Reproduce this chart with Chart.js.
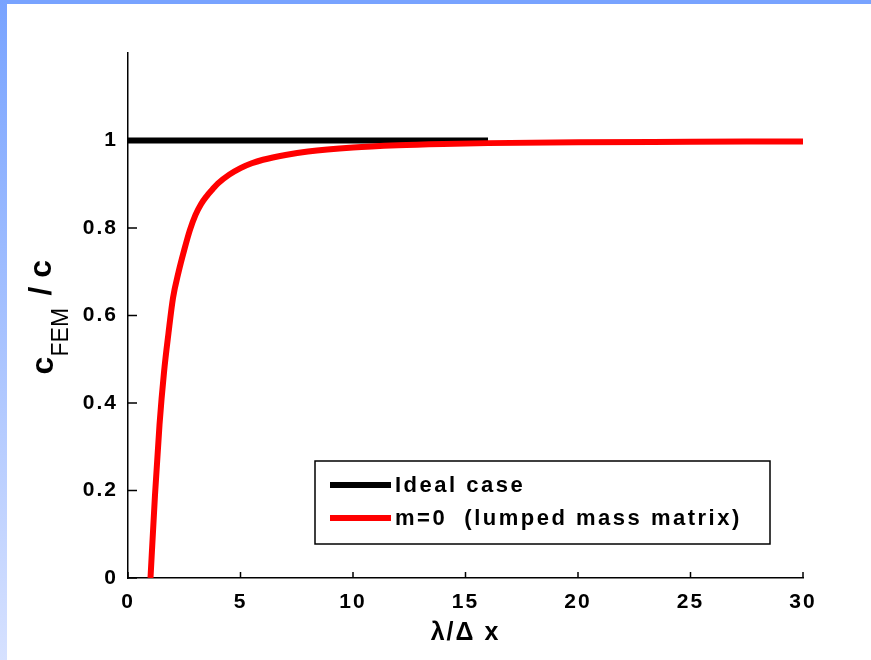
<!DOCTYPE html>
<html>
<head>
<meta charset="utf-8">
<script src="https://cdn.jsdelivr.net/npm/chart.js@4"></script>
<style>
  html, body { margin: 0; padding: 0; background: #fff; }
  #wrap { position: relative; width: 871px; height: 660px; overflow: hidden; }
  #topbar { position: absolute; left: 0; top: 0; width: 871px; height: 4px; background: #78a3ff; }
  #leftbar { position: absolute; left: 0; top: 0; width: 7px; height: 660px;
    background: linear-gradient(#78a3ff, #d6e1ff); }
  #chart_canvas { position: absolute; left: 0; top: 0; }
</style>
</head>
<body>
<div id="wrap">
  <div id="topbar"></div>
  <div id="leftbar"></div>
  <canvas id="chart_canvas" width="871" height="660"></canvas>
</div>
<script>
const lambdaRatio = [1, 1.2, 1.4, 1.6, 1.8, 2, 2.25, 2.5, 2.75, 3, 3.25, 3.5, 3.75, 4, 4.5, 5, 5.5, 6, 7, 8, 10, 12, 14, 16, 20, 25, 30];
const lumpedRatio = [0, 0.19, 0.35, 0.47, 0.56, 0.64, 0.70, 0.75, 0.795, 0.83, 0.855, 0.873, 0.888, 0.902, 0.922, 0.937, 0.948, 0.956, 0.967, 0.975, 0.984, 0.989, 0.992, 0.994, 0.996, 0.997, 0.998];
const idealX = [0, 16];
const idealY = [1, 1];
const xTicks = [0, 5, 10, 15, 20, 25, 30];
const yTicks = [0, 0.2, 0.4, 0.6, 0.8, 1];

const FONT = 'Liberation Sans, Arial, sans-serif';

function pts(xs, ys) {
  return xs.map((x, i) => ({ x: x, y: ys[i] }));
}

// wide letter spacing like the original screen render
const spacing = {
  id: 'spacing',
  beforeDraw(chart) { chart.ctx.letterSpacing = '2px'; }
};

// inward tick marks, like the matlab axes
const inTicks = {
  id: 'inTicks',
  afterDraw(chart) {
    const c = chart.ctx, a = chart.chartArea;
    const sx = chart.scales.x, sy = chart.scales.y;
    c.save();
    c.strokeStyle = '#000';
    c.lineWidth = 1.5;
    c.beginPath();
    xTicks.forEach(v => {
      const p = sx.getPixelForValue(v);
      c.moveTo(p, a.bottom);
      c.lineTo(p, a.bottom - 6);
    });
    yTicks.forEach(v => {
      const p = sy.getPixelForValue(v);
      c.moveTo(a.left, p);
      c.lineTo(a.left + 9, p);
    });
    c.stroke();
    c.restore();
  }
};

// legend box sitting inside the plot, lower right
const boxLegend = {
  id: 'boxLegend',
  afterDraw(chart) {
    const c = chart.ctx, a = chart.chartArea;
    const w = 455, h = 83;
    const x0 = a.right - 33 - w, y0 = a.bottom - 34 - h;
    c.save();
    c.fillStyle = '#fff';
    c.fillRect(x0, y0, w, h);
    c.strokeStyle = '#000';
    c.lineWidth = 1.5;
    c.strokeRect(x0, y0, w, h);
    c.font = 'bold 22px ' + FONT;
    c.letterSpacing = '2.5px';
    c.textBaseline = 'middle';
    c.fillStyle = '#000';
    const order = [1, 0];
    order.forEach((k, i) => {
      const ds = chart.data.datasets[k];
      const y = y0 + 24 + i * 33;
      c.strokeStyle = ds.borderColor;
      c.lineWidth = 6;
      c.beginPath();
      c.moveTo(x0 + 15, y);
      c.lineTo(x0 + 76, y);
      c.stroke();
      c.fillText(ds.label, x0 + 80, y + 1);
    });
    c.restore();
  }
};

// rotated y title with FEM subscript
const yTitle = {
  id: 'yTitle',
  afterDraw(chart) {
    const c = chart.ctx, a = chart.chartArea;
    const cy = (a.top + a.bottom) / 2;
    c.save();
    c.letterSpacing = '0px';
    c.translate(0, cy);
    c.rotate(-Math.PI / 2);
    c.fillStyle = '#000';
    c.textBaseline = 'alphabetic';
    c.textAlign = 'left';
    c.font = 'bold 32px ' + FONT;
    c.fillText('c', -59, 53);
    c.font = '23px ' + FONT;
    c.fillText('FEM', -41, 68);
    c.font = 'bold 32px ' + FONT;
    c.fillText('/ c', 20, 51);
    c.restore();
  }
};

let ctx = document.getElementById('chart_canvas');
let chart = new Chart(ctx, { // eslint-disable-line no-unused-vars, no-undef
  type: 'line',
  data: {
    datasets: [{
      label: 'm=0  (lumped mass matrix)',
      data: pts(lambdaRatio, lumpedRatio),
      borderColor: '#ff0000',
      borderWidth: 6,
      pointRadius: 0,
      cubicInterpolationMode: 'monotone',
      order: 0
    }, {
      label: 'Ideal case',
      data: pts(idealX, idealY),
      borderColor: '#000000',
      borderWidth: 6,
      pointRadius: 0,
      order: 1
    }]
  },
  options: {
    responsive: false,
    animation: false,
    layout: { padding: { left: 0, top: 53, right: 68, bottom: 0 } },
    plugins: {
      legend: { display: false },
      tooltip: { enabled: false }
    },
    scales: {
      x: {
        type: 'linear',
        min: 0,
        max: 30,
        afterBuildTicks: (s) => { s.ticks = xTicks.map(v => ({ value: v })); },
        afterFit: (s) => { s.height = 82; },
        grid: { display: false },
        border: { display: true, color: '#000', width: 1.5 },
        ticks: { color: '#000', padding: 4, maxRotation: 0, font: { family: FONT, size: 21, weight: 'bold' } },
        title: {
          display: true,
          text: 'λ/Δ x',
          color: '#000',
          font: { family: FONT, size: 25, weight: 'bold' },
          padding: { top: 0, bottom: 12 }
        }
      },
      y: {
        type: 'linear',
        min: 0,
        max: 1.2,
        afterBuildTicks: (s) => { s.ticks = yTicks.map(v => ({ value: v })); },
        afterFit: (s) => { s.width = 128; },
        grid: { display: false },
        border: { display: true, color: '#000', width: 1.5 },
        ticks: {
          color: '#000',
          padding: 2,
          font: { family: FONT, size: 21, weight: 'bold' },
          callback: (v) => String(Math.round(v * 10) / 10)
        }
      }
    }
  },
  plugins: [spacing, inTicks, boxLegend, yTitle]
});
</script>
</body>
</html>
